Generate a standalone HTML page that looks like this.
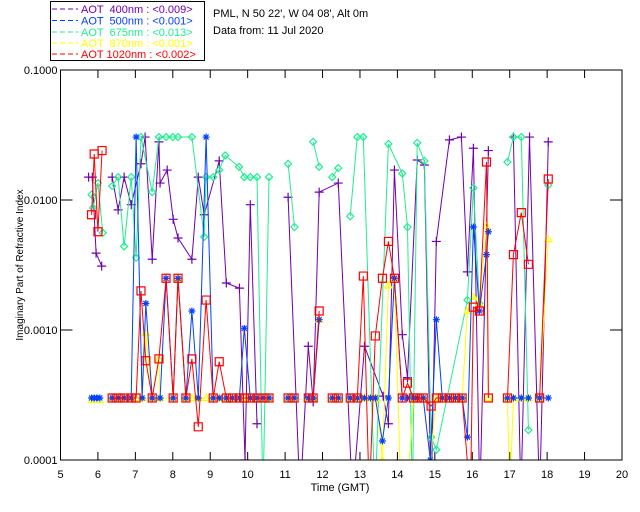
<!DOCTYPE html>
<html><head><meta charset="utf-8"><style>
html,body{margin:0;padding:0;background:#fff;}
svg{display:block;font-family:"Liberation Sans",sans-serif;}
</style></head><body>
<svg id="chart" width="640" height="512" viewBox="0 0 640 512" xmlns="http://www.w3.org/2000/svg">
<defs><clipPath id="plotclip"><rect x="60.5" y="70" width="561.5" height="390"/></clipPath></defs>
<rect x="0" y="0" width="640" height="512" fill="#fff"/>
<g>
<rect x="50.5" y="1.5" width="154" height="59" fill="#fff" stroke="#000" stroke-width="1"/>
<g font-size="11">
<line x1="52" y1="9" x2="78" y2="9" stroke="#7000b0" stroke-dasharray="5,3"/><text x="81" y="13" fill="#7000b0" xml:space="preserve">AOT  400nm : &lt;0.009&gt;</text>
<line x1="52" y1="20.5" x2="78" y2="20.5" stroke="#0040ff" stroke-dasharray="5,3"/><text x="81" y="24.5" fill="#0040ff" xml:space="preserve">AOT  500nm : &lt;0.001&gt;</text>
<line x1="52" y1="32" x2="78" y2="32" stroke="#20ee90" stroke-dasharray="5,3"/><text x="81" y="36" fill="#20ee90" xml:space="preserve">AOT  675nm : &lt;0.013&gt;</text>
<line x1="52" y1="43" x2="78" y2="43" stroke="#ffff00" stroke-dasharray="5,3"/><text x="81" y="47" fill="#ffff00" xml:space="preserve">AOT  870nm : &lt;0.001&gt;</text>
<line x1="52" y1="54" x2="78" y2="54" stroke="#ff0000" stroke-dasharray="5,3"/><text x="81" y="58" fill="#ff0000" xml:space="preserve">AOT 1020nm : &lt;0.002&gt;</text>
</g></g>
<text x="213" y="17" font-size="11">PML, N 50 22', W 04 08', Alt 0m</text>
<text x="213" y="34" font-size="11">Data from: 11 Jul 2020</text>
<g id="axes"></g>
<g id="series" clip-path="url(#plotclip)"></g>
<rect x="60.5" y="70" width="561.5" height="390" fill="none" stroke="#000" stroke-width="1"/>
<text x="340" y="491" font-size="11" text-anchor="middle">Time (GMT)</text>
<text transform="translate(23,265) rotate(-90)" font-size="10" text-anchor="middle">Imaginary Part of Refractive Index</text>
</svg>
<script>
const xTicks = [5,6,7,8,9,10,11,12,13,14,15,16,17,18,19,20];
const yTicks = [0.1,0.01,0.001,0.0001];
const yTickLabels = ["0.1000","0.0100","0.0010","0.0001"];
const N = null;
const t400 = [5.75,5.85,5.95,6.1,N,6.38,6.54,6.70,6.89,7.15,7.26,7.45,7.63,7.66,7.85,8.01,8.14,8.51,8.68,8.84,9.24,9.43,9.78,9.93,10.07,10.25,N,11.08,11.4,11.62,11.75,11.91,12.42,12.8,13.12,13.62,13.76,13.92,14.13,14.27,14.53,14.72,14.9,15.04,15.39,15.71,15.87,16.03,16.2,16.43,N,17.10,17.3,17.53,17.8,18.03];
const v400 = [0.015,0.015,0.0039,0.0031,N,0.015,0.0084,0.015,0.0092,0.019,0.0305,0.0035,0.028,0.0135,0.017,0.0071,0.0051,0.0035,0.015,0.0077,0.020,0.0023,0.0021,0.0001,0.0092,0.00019,N,0.0105,0.00005,0.00075,0.00028,0.0115,0.0135,0.00005,0.00075,0.00031,0.00019,0.017,0.00092,0.00043,0.0203,0.0186,0.00005,0.0048,0.029,0.0305,0.0028,0.025,0.00005,0.024,N,0.0305,0.00005,0.0305,0.00005,0.028];
const t500 = [5.83,5.9,5.97,6.05,N,6.38,6.54,6.70,6.89,7.02,7.18,7.28,7.45,7.66,7.82,8.01,8.14,8.35,8.51,8.68,8.89,9.08,9.24,9.43,9.59,9.78,9.91,10.07,10.25,10.41,10.57,N,11.08,11.24,N,11.62,11.75,11.91,N,12.26,12.42,N,12.74,12.93,13.12,13.28,13.41,13.6,13.76,13.92,14.13,14.27,14.43,14.53,14.69,14.88,15.04,15.2,15.39,15.55,15.73,15.87,16.03,16.19,16.38,16.43,N,16.94,17.1,17.31,17.5,N,17.8,18.03];
const v500 = [0.0003,0.0003,0.0003,0.0003,N,0.0003,0.0003,0.0003,0.0003,0.0305,0.0003,0.0016,0.0003,0.0003,0.0025,0.0003,0.0025,0.0003,0.0014,0.0003,0.0305,0.0003,0.0003,0.0003,0.0003,0.0003,0.00103,0.0003,0.0003,0.0003,0.0003,N,0.0003,0.0003,N,0.0003,0.0003,0.0012,N,0.0003,0.0003,N,0.0003,0.0003,0.0003,0.0003,0.0003,0.00014,0.0003,0.0025,0.0003,0.0003,0.0003,0.0003,0.0003,0.0001,0.0012,0.0003,0.0003,0.0003,0.0003,0.00015,0.0062,0.0014,0.0038,0.0057,N,0.0003,0.0003,0.0003,0.0003,N,0.0003,0.0003];
const t675 = [5.83,5.87,6.0,6.13,N,6.38,6.54,6.70,6.89,7.02,7.15,7.45,7.63,7.82,8.0,8.14,8.51,8.84,8.89,9.08,9.24,9.40,9.77,9.91,10.07,10.25,10.41,10.57,N,11.08,11.25,N,11.75,11.91,N,12.26,12.42,N,12.74,12.93,13.09,13.4,13.76,14.13,14.27,14.4,14.53,14.72,14.9,15.04,15.87,16.03,16.19,N,16.94,17.1,17.31,17.5,N,18.03];
const v675 = [0.011,0.0087,0.0135,0.0056,N,0.0128,0.015,0.0044,0.015,0.0036,0.0305,0.0115,0.0305,0.0305,0.0305,0.0305,0.0305,0.0052,0.015,0.015,0.017,0.022,0.018,0.015,0.015,0.015,0.00005,0.015,N,0.019,0.0062,N,0.028,0.018,N,0.015,0.0176,N,0.0075,0.0305,0.0305,0.00005,0.027,0.016,0.0062,0.00005,0.0275,0.020,0.00015,0.00012,0.0017,0.0124,0.0016,N,0.0196,0.0305,0.0305,0.00017,N,0.013];
const t870 = [5.83,5.9,5.97,6.05,N,6.38,6.54,6.70,6.89,7.02,7.18,7.28,7.45,7.63,7.66,8.01,8.14,8.35,8.51,8.68,8.89,9.08,9.24,9.43,9.59,9.78,9.91,10.07,10.25,10.41,10.57,N,11.08,11.24,N,11.62,11.75,11.91,N,12.26,12.42,N,12.74,12.93,13.12,13.28,13.45,13.6,13.76,13.92,14.1,14.25,14.43,14.53,14.69,14.88,15.04,15.2,15.39,15.55,15.73,15.87,16.03,16.19,16.38,16.43,N,16.94,17.0,17.1,17.31,17.5,N,17.8,18.03];
const v870 = [0.00029,0.00029,0.00029,0.00029,N,0.0003,0.0003,0.0003,0.0003,0.0003,0.0003,0.00095,0.0003,0.0006,0.0003,0.0003,0.0025,0.0003,0.0003,0.0003,0.0003,0.0003,0.0003,0.0003,0.0003,0.0003,0.0003,0.0003,0.0003,0.0003,0.0003,N,0.0003,0.0003,N,0.0003,0.0003,0.0012,N,0.0003,0.0003,N,0.0003,0.0003,0.0003,0.0003,0.0003,0.0001,0.0022,0.0025,0.00005,0.00005,0.0003,0.0003,0.0003,0.0001,0.0003,0.0003,0.0003,0.0003,0.0003,0.0014,0.0018,0.0016,0.0063,0.0003,N,0.0003,0.00005,0.0003,0.0003,0.0003,N,0.0003,0.005];
const t1020 = [5.83,5.9,6.0,6.11,N,6.38,6.54,6.70,6.89,7.02,7.15,7.28,7.45,7.63,7.82,8.01,8.14,8.35,8.51,8.68,8.89,9.08,9.24,9.43,9.59,9.78,9.91,10.07,10.25,10.41,10.57,N,11.08,11.24,N,11.62,11.75,11.91,N,12.26,12.42,N,12.74,12.93,13.09,13.25,13.41,13.6,13.76,13.92,14.13,14.27,14.43,14.53,14.69,14.9,15.04,15.2,15.39,15.55,15.73,15.95,16.03,16.19,16.38,16.43,N,16.94,17.1,17.31,17.5,N,17.8,18.03];
const v1020 = [0.0077,0.0226,0.0057,0.024,N,0.0003,0.0003,0.0003,0.0003,0.0003,0.002,0.00058,0.0003,0.0006,0.0025,0.0003,0.0025,0.0003,0.0006,0.00018,0.0017,0.0003,0.00057,0.0003,0.0003,0.0003,0.0003,0.0003,0.0003,0.0003,0.0003,N,0.0003,0.0003,N,0.0003,0.0003,0.0014,N,0.0003,0.0003,N,0.0003,0.0003,0.0026,0.00005,0.0009,0.0025,0.0048,0.0025,0.0003,0.00039,0.0003,0.0003,0.0003,0.00026,0.0003,0.0003,0.0003,0.0003,0.0003,0.00005,0.0015,0.0014,0.0196,0.0003,N,0.0003,0.0038,0.008,0.0032,N,0.0003,0.0145];

const X0=60.5, X1=622, Y0=460, Y1=70;
function xs(t){return X0+(t-5)/(20-5)*(X1-X0);}
function ys(v){return Y0-(Math.log10(v)+4)/3*(Y0-Y1);}
const NS="http://www.w3.org/2000/svg";
function mk(tag,attrs,parent){const e=document.createElementNS(NS,tag);for(const k in attrs)e.setAttribute(k,attrs[k]);parent.appendChild(e);return e;}
const axes=document.getElementById('axes');
xTicks.forEach(function(t){
  const x=xs(t);
  const a=mk('line',{x1:x,y1:Y0,x2:x,y2:Y0-8,stroke:'#000'},axes);
  
  
  mk('line',{x1:x,y1:Y1,x2:x,y2:Y1+8,stroke:'#000'},axes);
  const lb=mk('text',{x:x,y:Y0+18,'font-size':'11','text-anchor':'middle'},axes);
  lb.textContent=String(t);
  
  
});
yTicks.forEach(function(v,i){
  const y=ys(v);
  const a=mk('line',{x1:X0,y1:y,x2:X0+12,y2:y,stroke:'#000'},axes);
  
  
  mk('line',{x1:X1,y1:y,x2:X1-12,y2:y,stroke:'#000'},axes);
  const lb=mk('text',{x:X0-3,y:y+4,'font-size':'11','text-anchor':'end'},axes);
  lb.textContent=yTickLabels[i];
  
  
});
const sg=document.getElementById('series');
function marker(kind,x,y,col,g){
  let d='';
  if(kind==='plus') d=`M${x-4.5},${y}H${x+4.5}M${x},${y-4.5}V${y+4.5}`;
  else if(kind==='star') d=`M${x-3.5},${y}H${x+3.5}M${x},${y-3.5}V${y+3.5}M${x-2.5},${y-2.5}L${x+2.5},${y+2.5}M${x-2.5},${y+2.5}L${x+2.5},${y-2.5}`;
  else if(kind==='diamond') d=`M${x},${y-3.5}L${x+3.5},${y}L${x},${y+3.5}L${x-3.5},${y}Z`;
  else if(kind==='tri') d=`M${x},${y-3.5}L${x+3.5},${y+2.5}L${x-3.5},${y+2.5}Z`;
  else if(kind==='square') d=`M${x-4},${y-4}H${x+4}V${y+4}H${x-4}Z`;
  mk('path',{d:d,fill:'none',stroke:col,'stroke-width':'1.2'},g);
}
function drawSeries(ts,vs,col,kind,name){
  const g=mk('g',{},sg);
  
  
  let d='',pen=false;
  for(let i=0;i<ts.length;i++){
    if(ts[i]===null||vs[i]===null){pen=false;continue;}
    d+=(pen?'L':'M')+xs(ts[i]).toFixed(1)+','+ys(vs[i]).toFixed(1);pen=true;
  }
  mk('path',{d:d,fill:'none',stroke:col,'stroke-width':'1'},g);
  for(let i=0;i<ts.length;i++){
    if(ts[i]===null||vs[i]===null||vs[i]<0.0001)continue;
    marker(kind,xs(ts[i]),ys(vs[i]),col,g);
  }
}
drawSeries(t400,v400,'#7000b0','plus','series-400nm');
drawSeries(t675,v675,'#20ee90','diamond','series-675nm');
drawSeries(t870,v870,'#ffff00','tri','series-870nm');
drawSeries(t500,v500,'#0040ff','star','series-500nm');
drawSeries(t1020,v1020,'#ff0000','square','series-1020nm');
</script>
</body></html>
